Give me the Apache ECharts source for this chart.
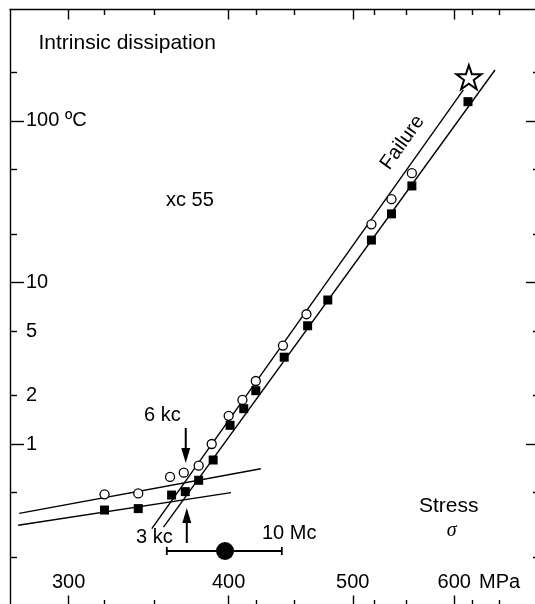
<!DOCTYPE html>
<html><head><meta charset="utf-8">
<script src="https://cdn.jsdelivr.net/npm/echarts@6/dist/echarts.min.js"></script>
<style>html,body{margin:0;padding:0;background:#fff}#c{width:535px;height:604px}</style>
</head><body><div id="c"></div>
<script>
// ---- data (stress in MPa, temperature rise in °C) ----
const openCircles = [[320,0.488],[340,0.494],[360,0.625],[369,0.664],[379,0.734],[388,1.0],[400,1.495],[410,1.873],[420,2.455],[441,4.07],[460,6.36],[517,22.9],[536,32.8],[556,47.5]];
const filledSquares = [[320,0.390],[340,0.398],[361,0.483],[370,0.507],[379,0.596],[389,0.796],[401,1.305],[411,1.654],[420,2.138],[442,3.447],[461,5.395],[478,7.79],[517,18.3],[536,26.6],[556,39.6],[615,131.7]];
const failurePoint = [[616,186.5]];
const upperLowStressLine = [[274.5,0.372],[423.8,0.703]];
const lowerLowStressLine = [[274.0,0.314],[401.7,0.4995]];
const upperHighStressLine = [[348.4,0.299],[609.9,155.6]];
const lowerHighStressLine = [[355.8,0.306],[645.6,206.9]];
const frequencyBar = [[357.9,440.1,0.2175]];
const frequencyDot = [[397.4,0.2175]];
const arrows = [[370.3,1.256,0.763],[371.0,0.2438,0.4016]]; // x, tail, tip
const xMajorTicks = [300,400,500,600];
const xMinorTicks = [320,350,420,450,520,550,620,650];
const yMajorTicks = [1,10,100];
const yMinorTicks = [0.2,0.5,2,5,20,50,200];
const yLabels = [1,2,5,10,100];

const FONT = 'Liberation Sans, Arial, Helvetica, sans-serif';
const X_MIN = 270, X_MAX = 700, Y_MIN = 0.1, Y_MAX = 490;

function xAx(pos, ticks, len, showLine, labels) {
  return {
    type: 'log', logBase: 10, min: X_MIN, max: X_MAX, position: pos,
    axisLine: {show: showLine, onZero: false, lineStyle: {color: '#000', width: 1.4}},
    axisTick: {show: true, inside: true, length: len, customValues: ticks, lineStyle: {color: '#000', width: 1.4}},
    axisLabel: labels ? {show: true, inside: true, margin: 13, customValues: labels, color: '#000', fontSize: 20, fontFamily: FONT} : {show: false},
    splitLine: {show: false}, minorTick: {show: false}, minorSplitLine: {show: false}
  };
}
function yAx(pos, ticks, len, showLine, labels) {
  return {
    type: 'log', logBase: 10, min: Y_MIN, max: Y_MAX, position: pos,
    axisLine: {show: showLine, onZero: false, lineStyle: {color: '#000', width: 1.4}},
    axisTick: {show: true, inside: true, length: len, customValues: ticks, lineStyle: {color: '#000', width: 1.4}},
    axisLabel: labels ? {show: true, inside: true, margin: 16, customValues: labels, color: '#000', fontSize: 20, fontFamily: FONT,
      formatter: v => (Math.abs(v - 100) < 1e-6 ? '100 \u00baC' : String(Math.round(v)))} : {show: false},
    splitLine: {show: false}, minorTick: {show: false}, minorSplitLine: {show: false}
  };
}

const lineStyle = {color: '#000', width: 1.4};
function fitLine(data) {
  return {type: 'line', data: data, showSymbol: false, symbol: 'none', lineStyle: lineStyle, silent: true, z: 2};
}

const txt = (text, x, y, opt) => Object.assign({type: 'text', x: x, y: y, silent: true,
  style: Object.assign({text: text, fill: '#000', fontSize: 20, fontFamily: FONT, align: 'left', verticalAlign: 'middle'}, (opt && opt.style) || {})},
  opt ? {rotation: opt.rotation || 0} : {});

const chart = echarts.init(document.getElementById('c'), null, {renderer: 'canvas'});
chart.setOption({
  animation: false,
  backgroundColor: '#fff',
  grid: {left: 10, top: 9.5, width: 530, height: 596, containLabel: false, outerBoundsMode: 'none'},
  xAxis: [
    xAx('bottom', xMajorTicks, 10, true, xMajorTicks),
    xAx('bottom', xMinorTicks, 5.5, false, null),
    xAx('top', xMajorTicks, 10, true, null),
    xAx('top', xMinorTicks, 5.5, false, null)
  ],
  yAxis: [
    yAx('left', yMajorTicks, 14, true, yLabels),
    yAx('left', yMinorTicks, 7, false, null),
    yAx('right', yMajorTicks, 14, true, null),
    yAx('right', yMinorTicks, 7, false, null)
  ],
  series: [
    fitLine(upperLowStressLine),
    fitLine(lowerLowStressLine),
    fitLine(upperHighStressLine),
    fitLine(lowerHighStressLine),
    {type: 'scatter', data: openCircles, symbol: 'circle', symbolSize: 9,
      itemStyle: {color: '#fff', borderColor: '#000', borderWidth: 1.3, opacity: 1}, z: 3, silent: true},
    {type: 'scatter', data: filledSquares, symbol: 'rect', symbolSize: 9,
      itemStyle: {color: '#000', opacity: 1}, z: 3, silent: true},
    {type: 'scatter', data: failurePoint,
      symbol: 'path://M50,0 L61.8,35.1 L98.9,35.1 L69,57.3 L80.3,92.7 L50,71 L19.7,92.7 L31,57.3 L1.1,35.1 L38.2,35.1 Z',
      symbolSize: [25, 24], itemStyle: {color: '#fff', borderColor: '#000', borderWidth: 2, opacity: 1}, z: 4, silent: true},
    {type: 'custom', data: frequencyBar, encode: {x: [0, 1], y: 2}, silent: true, z: 3,
      renderItem: (params, api) => {
        const a = api.coord([api.value(0), api.value(2)]);
        const b = api.coord([api.value(1), api.value(2)]);
        const st = {stroke: '#000', lineWidth: 1.8};
        return {type: 'group', children: [
          {type: 'line', shape: {x1: a[0], y1: a[1], x2: b[0], y2: b[1]}, style: st},
          {type: 'line', shape: {x1: a[0], y1: a[1] - 4, x2: a[0], y2: a[1] + 4}, style: st},
          {type: 'line', shape: {x1: b[0], y1: b[1] - 4, x2: b[0], y2: b[1] + 4}, style: st}
        ]};
      }},
    {type: 'scatter', data: frequencyDot, symbol: 'circle', symbolSize: 18, itemStyle: {color: '#000', opacity: 1}, z: 4, silent: true},
    {type: 'custom', data: arrows, encode: {x: 0, y: [1, 2]}, silent: true, z: 3,
      renderItem: (params, api) => {
        const x = api.value(0);
        const p1 = api.coord([x, api.value(1)]);
        const p2 = api.coord([x, api.value(2)]);
        const dir = Math.sign(p2[1] - p1[1]);
        const headL = 15, headW = 4.5;
        const base = p2[1] - dir * headL;
        return {type: 'group', children: [
          {type: 'line', shape: {x1: p1[0], y1: p1[1], x2: p2[0], y2: base + dir}, style: {stroke: '#000', lineWidth: 2}},
          {type: 'polygon', shape: {points: [[p2[0], p2[1]], [p2[0] - headW, base], [p2[0] + headW, base]]}, style: {fill: '#000'}}
        ]};
      }}
  ],
  graphic: [
    txt('Intrinsic dissipation', 38.5, 43, {style: {fontSize: 21}}),
    txt('xc 55', 166, 200),
    txt('6 kc', 144, 415.5),
    txt('3 kc', 136, 537),
    txt('10 Mc', 262, 533.5),
    txt('Stress', 419, 506.5, {style: {fontSize: 21}}),
    txt('\u03c3', 451.7, 531, {style: {fontFamily: 'Liberation Serif, DejaVu Serif, serif', fontStyle: 'italic', align: 'center'}}),
    txt('MPa', 479, 582),
    txt('Failure', 402.5, 142.5, {rotation: 54.7 * Math.PI / 180, style: {align: 'center'}})
  ]
});
</script></body></html>
